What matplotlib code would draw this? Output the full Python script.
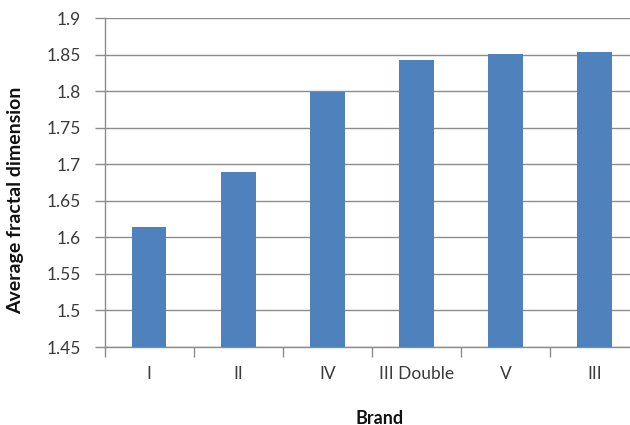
import matplotlib
matplotlib.use("Agg")
import matplotlib.pyplot as plt
import numpy as np

brands = ["I", "II", "IV", "III Double", "V", "III"]
avg_fractal_dim = [1.614, 1.690, 1.799, 1.842, 1.851, 1.853]
y_ticks = [1.45, 1.5, 1.55, 1.6, 1.65, 1.7, 1.75, 1.8, 1.85, 1.9]
y_tick_labels = ["1.45", "1.5", "1.55", "1.6", "1.65", "1.7", "1.75", "1.8", "1.85", "1.9"]

plt.rcParams["font.family"] = ["Lato", "DejaVu Sans"]

fig = plt.figure(figsize=(6.3, 4.25), dpi=100)
# plot area runs slightly past the right edge of the canvas
ax = fig.add_axes([0.1659, 0.1835, 0.8484, 0.7741])

x = np.arange(len(brands))
ax.bar(x, avg_fractal_dim, width=0.39, color="#4F81BD", zorder=3)

ax.set_xlim(-0.5, len(brands) - 0.5)
ax.set_ylim(1.45, 1.9)
ax.set_yticks(y_ticks)
ax.set_yticklabels(y_tick_labels)
ax.yaxis.grid(True, color="#8C8C8C", linewidth=1.0, zorder=0)
ax.set_axisbelow(True)

# category labels centred, tick marks between categories
ax.set_xticks(x)
ax.set_xticklabels(brands)
ax.tick_params(axis="x", length=0, pad=14, labelsize=12.5, labelcolor="#3A3A3A")
ax.set_xticks(np.arange(-0.5, len(brands)), minor=True)
ax.tick_params(axis="x", which="minor", length=7, color="#8C8C8C", width=1.0)
ax.tick_params(axis="y", length=7, color="#8C8C8C", width=1.0, labelsize=12.5,
               labelcolor="#3A3A3A", pad=10)

for side in ("top", "right"):
    ax.spines[side].set_visible(False)
for side in ("left", "bottom"):
    ax.spines[side].set_color("#8C8C8C")
    ax.spines[side].set_linewidth(1.0)

ax.set_xlabel("Brand", fontsize=13, fontweight="bold", color="#111111")
ax.set_ylabel("Average fractal dimension", fontsize=14, fontweight="bold", color="#111111")
ax.xaxis.set_label_coords(0.515, -0.19)
ax.yaxis.set_label_coords(-0.150, 0.447)

fig.savefig("out.png", dpi=100)
